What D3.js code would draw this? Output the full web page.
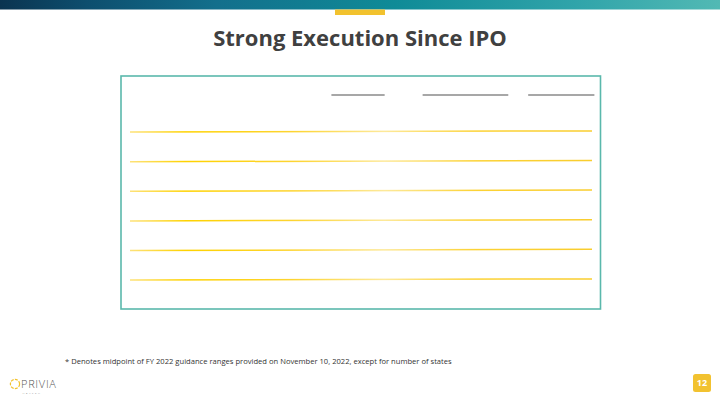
<!DOCTYPE html>
<html>
<head>
<meta charset="utf-8">
<script src="https://cdn.jsdelivr.net/npm/d3@7"></script>
<style>
  body { margin: 0; background: #fff; }
  svg { display: block; font-family: "Open Sans", sans-serif; }
</style>
</head>
<body>
<svg width="720" height="405"></svg>
<script>
const width = 720;
const height = 405;

// slide content
const title = "Strong Execution Since IPO";
const footnote = "* Denotes midpoint of FY 2022 guidance ranges provided on November 10, 2022, except for number of states";
const pageNumber = "12";

// table structure (the cell contents are not visible in the slide)
const headerCols = ["IPO", "FY 2022*", "Change"];
const rows = ["row1", "row2", "row3", "row4", "row5", "row6"];

const svg = d3.select("svg");
const defs = svg.append("defs");

// top banner
const banner = defs.append("linearGradient").attr("id", "banner");
[["0%", "#0b3450"], ["12%", "#0d4e6e"], ["30%", "#136f8c"], ["55%", "#0f8b97"], ["80%", "#30a4aa"], ["100%", "#52b9b4"]]
  .forEach(s => banner.append("stop").attr("offset", s[0]).attr("stop-color", s[1]));

svg.append("rect")
    .attr("width", width).attr("height", 9.5)
    .attr("fill", "url(#banner)");
svg.append("rect")
    .attr("x", 335).attr("y", 9.5)
    .attr("width", 50).attr("height", 5.5)
    .attr("fill", "#f2c22e");

// title
svg.append("text")
    .attr("x", width / 2).attr("y", 45.5)
    .attr("text-anchor", "middle")
    .attr("font-size", 22)
    .attr("font-weight", 700)
    .attr("fill", "#404040")
    .text(title);

// table frame
const box = {x: 121, y: 76, w: 479.5, h: 233};
svg.append("rect")
    .attr("x", box.x).attr("y", box.y)
    .attr("width", box.w).attr("height", box.h)
    .attr("fill", "none")
    .attr("stroke", "#5ab8ac")
    .attr("stroke-width", 1.6);

// header underlines
const x = d3.scaleLinear().domain([0, 1]).range([130, 593]);
const colSpans = [[0.435, 0.55], [0.632, 0.817], [0.86, 1.003]];
svg.append("g")
  .selectAll("line")
  .data(headerCols)
  .join("line")
    .attr("x1", (d, i) => x(colSpans[i][0]))
    .attr("x2", (d, i) => x(colSpans[i][1]))
    .attr("y1", 95).attr("y2", 95)
    .attr("stroke", "#8a8a8a")
    .attr("stroke-width", 1.6);

// row separators
const y = d3.scalePoint().domain(rows).range([131.5, 279.5]);
const gold = defs.append("linearGradient").attr("id", "gold");
[["0%", "#fde27a"], ["12%", "#fed200"], ["35%", "#fdd430"], ["55%", "#fde99a"], ["75%", "#fcd234"], ["100%", "#f9cd2e"]]
  .forEach(s => gold.append("stop").attr("offset", s[0]).attr("stop-color", s[1]));

svg.append("g")
  .selectAll("line")
  .data(rows)
  .join("line")
    .attr("x1", 130).attr("x2", 592)
    .attr("y1", d => y(d) + 0.6)
    .attr("y2", d => y(d) - 0.6)
    .attr("stroke", "url(#gold)")
    .attr("stroke-width", 1.5);

// footnote
svg.append("text")
    .attr("x", 65).attr("y", 364)
    .attr("font-size", 7.6)
    .attr("fill", "#333")
    .text(footnote);

// logo
const logo = svg.append("g").attr("transform", "translate(15,384)");
logo.append("circle")
    .attr("r", 4.6)
    .attr("fill", "none")
    .attr("stroke", "#f2c22e")
    .attr("stroke-width", 1.2)
    .attr("stroke-dasharray", "3 1.2");
logo.append("text")
    .attr("x", 6).attr("y", 3.8)
    .attr("font-size", 11)
    .attr("font-weight", 300)
    .attr("letter-spacing", 0.7)
    .attr("fill", "#555")
    .text("PRIVIA");
logo.append("text")
    .attr("x", 7.5).attr("y", 10)
    .attr("font-size", 2.5)
    .attr("letter-spacing", 1.6)
    .attr("fill", "#777")
    .text("HEALTH");

// page number badge
svg.append("rect")
    .attr("x", 693).attr("y", 374)
    .attr("width", 18).attr("height", 18)
    .attr("rx", 2.5)
    .attr("fill", "#f2c230");
svg.append("text")
    .attr("x", 702).attr("y", 386.2)
    .attr("text-anchor", "middle")
    .attr("font-size", 9)
    .attr("font-weight", 700)
    .attr("fill", "#fff")
    .text(pageNumber);
</script>
</body>
</html>
